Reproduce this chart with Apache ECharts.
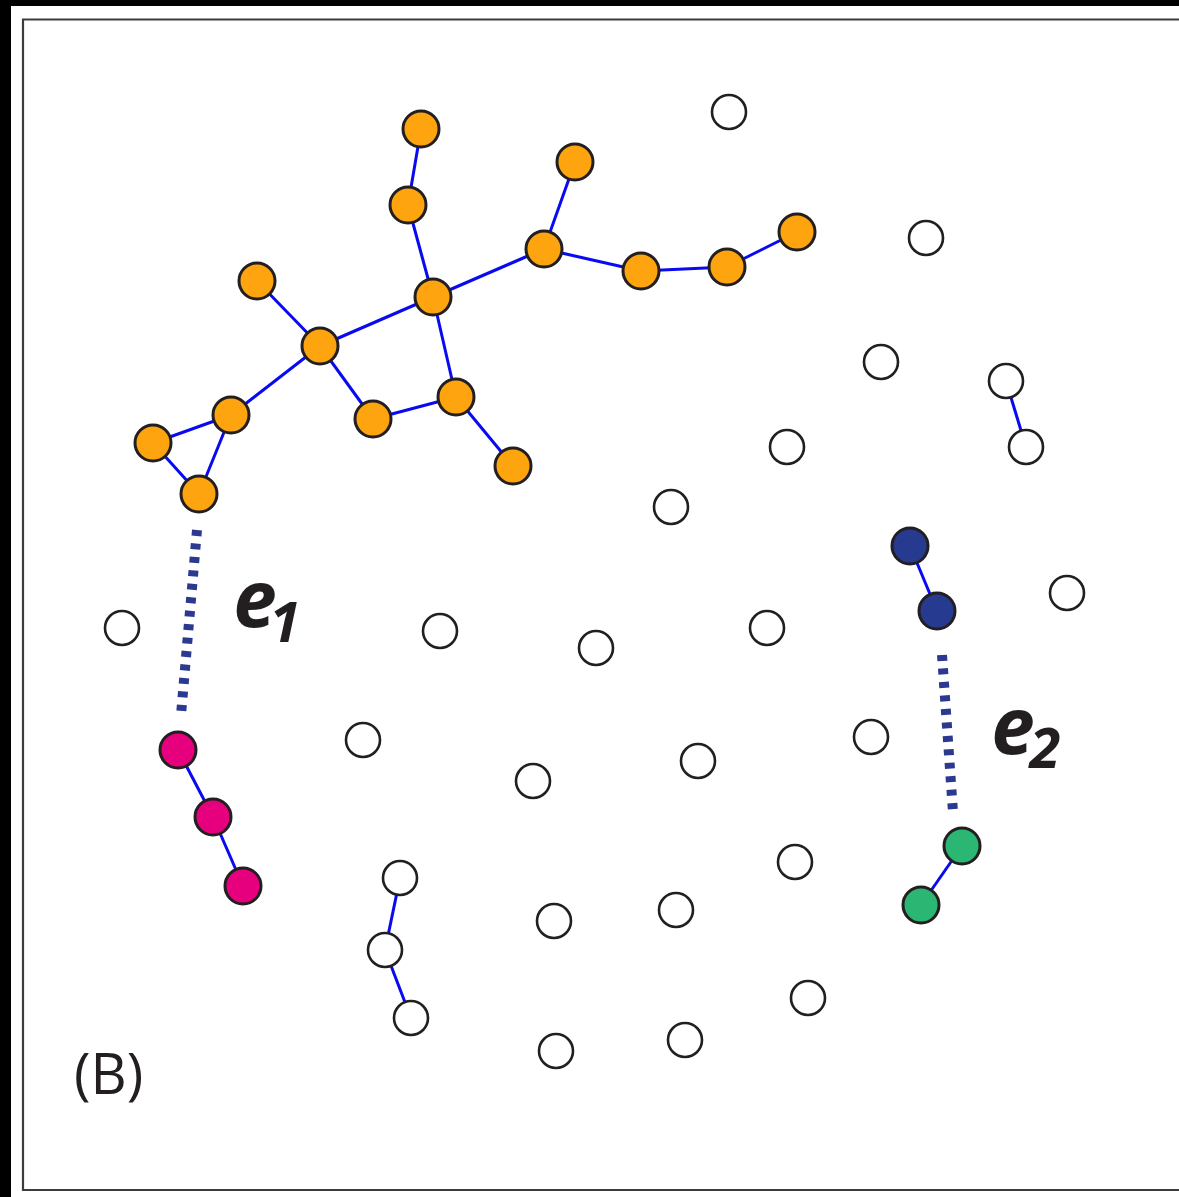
<!DOCTYPE html>
<html><head><meta charset="utf-8">
<script src="https://cdn.jsdelivr.net/npm/echarts@6/dist/echarts.min.js"></script>
<style>html,body{margin:0;padding:0;background:#fff}#c{width:1179px;height:1197px}</style>
</head><body><div id="c"></div>
<script>
const orangeNodes = [[421,129],[408,205],[575,162],[544,249],[641,271],[727,267],[797,232],[257,281],[433,297],[320,346],[456,397],[373,419],[513,466],[231,415],[153,443],[199,494]];
const orangeEdges = [[0,1],[1,8],[2,3],[3,8],[3,4],[4,5],[5,6],[7,9],[8,9],[8,10],[9,11],[11,10],[10,12],[9,13],[13,14],[13,15],[14,15]];
const pinkNodes = [[178,750],[213,817],[243,886]];
const pinkEdges = [[0,1],[1,2]];
const navyNodes = [[910,546],[937,611]];
const navyEdges = [[0,1]];
const greenNodes = [[962,846],[921,905]];
const greenEdges = [[0,1]];
const whiteNodes = [[729,112],[926,238],[881,362],[1006,381],[1026,447],[787,447],[671,507],[1067,593],[122,628],[440,631],[596,648],[767,628],[363,740],[871,737],[533,781],[698,761],[795,862],[400,878],[385,950],[411,1018],[554,921],[676,910],[808,998],[556,1051],[685,1040]];
const whiteEdges = [[3,4],[17,18],[18,19]];
const dashedEdges = [[[197,530],[181,715]],[[942,655],[953,812]]];
const edgeLabels = [{main:'e', sub:'1', at:[255,605], subAt:[285,626]}, {main:'e', sub:'2', at:[1013,732], subAt:[1045,752]}];
const panelLabel = '(B)';

const groups = [
  {nodes: orangeNodes, edges: orangeEdges, color: '#FDA40F', size: 36, bw: 3},
  {nodes: pinkNodes, edges: pinkEdges, color: '#E6007E', size: 36, bw: 3},
  {nodes: navyNodes, edges: navyEdges, color: '#263A8F', size: 36, bw: 3},
  {nodes: greenNodes, edges: greenEdges, color: '#2BB673', size: 36, bw: 3},
  {nodes: whiteNodes, edges: whiteEdges, color: '#FFFFFF', size: 34, bw: 2.6}
];
const data = [], links = [];
groups.forEach((g, gi) => {
  const base = data.length;
  g.nodes.forEach((p, i) => data.push({name: 'n' + gi + '_' + i, value: p, symbolSize: g.size,
    itemStyle: {color: g.color, borderColor: '#231F20', borderWidth: g.bw}}));
  g.edges.forEach(e => links.push({source: base + e[0], target: base + e[1]}));
});

const labelFont = '"Open Sans", "DejaVu Sans", sans-serif';
const textEls = [];
edgeLabels.forEach(l => {
  textEls.push({type: 'text', x: l.at[0], y: l.at[1], style: {text: l.main, font: 'italic bold 78px ' + labelFont, fill: '#231F20', align: 'center', verticalAlign: 'middle'}});
  textEls.push({type: 'text', x: l.subAt[0], y: l.subAt[1], style: {text: l.sub, font: 'italic bold 56px ' + labelFont, fill: '#231F20', align: 'center', verticalAlign: 'middle'}});
});

const chart = echarts.init(document.getElementById('c'));
chart.setOption({
  animation: false,
  grid: {left: 0, right: 0, top: 0, bottom: 0},
  xAxis: {type: 'value', min: 0, max: 1179, show: false},
  yAxis: {type: 'value', min: 0, max: 1197, inverse: true, show: false},
  graphic: [
    {type: 'rect', shape: {x: 0, y: 0, width: 11, height: 1197}, style: {fill: '#000'}},
    {type: 'rect', shape: {x: 0, y: 0, width: 1179, height: 6}, style: {fill: '#000'}},
    {type: 'rect', shape: {x: 23, y: 19.5, width: 1170, height: 1170.5}, style: {fill: 'none', stroke: '#3c3c3c', lineWidth: 2.2}},
    {type: 'text', x: 74, y: 1078, style: {text: panelLabel, font: '56px "Open Sans", "Liberation Sans", sans-serif', fill: '#231F20', verticalAlign: 'middle'}}
  ].concat(textEls),
  series: dashedEdges.map(c => ({
    type: 'line', data: c, showSymbol: false, symbol: 'none', z: 1, silent: true,
    lineStyle: {color: '#2B3990', width: 10, type: [6, 7.5]}
  })).concat([
    {
      type: 'graph', coordinateSystem: 'cartesian2d', layout: 'none', z: 2,
      symbol: 'circle', data: data, links: links,
      lineStyle: {color: '#0A0AF0', width: 3, opacity: 1, curveness: 0},
      label: {show: false}, emphasis: {disabled: true}
    }
  ])
});
</script></body></html>
